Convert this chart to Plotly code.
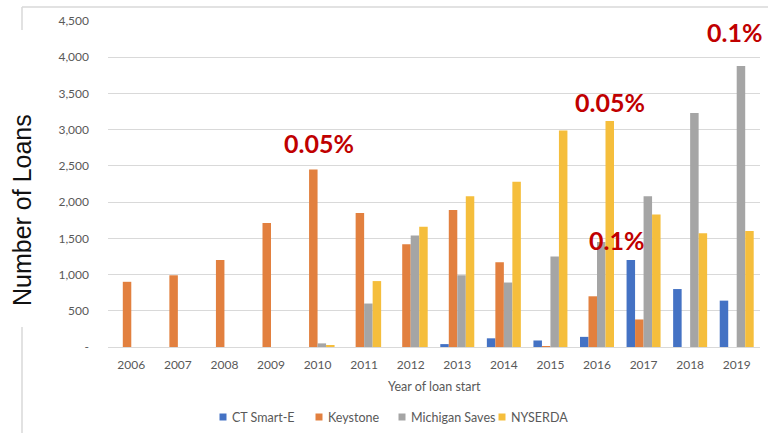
import plotly.graph_objects as go

# Loans started per year for each program
years = ["2006", "2007", "2008", "2009", "2010", "2011", "2012",
         "2013", "2014", "2015", "2016", "2017", "2018", "2019"]
ct_smart_e = [0, 0, 0, 0, 0, 0, 0, 40, 120, 90, 140, 1200, 800, 640]
keystone = [900, 990, 1200, 1710, 2450, 1850, 1420, 1890, 1170, 10, 700, 380, 0, 0]
michigan_saves = [0, 0, 0, 0, 50, 600, 1540, 990, 890, 1250, 1450, 2080, 3230, 3880]
nyserda = [0, 0, 0, 0, 20, 910, 1660, 2080, 2280, 2990, 3120, 1830, 1570, 1600]

series_names = ["CT Smart-E", "Keystone", "Michigan Saves", "NYSERDA"]
series_values = [ct_smart_e, keystone, michigan_saves, nyserda]
series_colors = ["#4472C4", "#E2803F", "#A5A5A5", "#F5BE3C"]

# Default-rate callouts: text, year, height, horizontal shift in px
callout_text = ["0.05%", "0.05%", "0.1%", "0.1%"]
callout_year = ["2010", "2016", "2016", "2019"]
callout_y = [2816, 3382, 1477, 4348]
callout_shift = [1, 13, 19, -2]

y_ticks = [0, 500, 1000, 1500, 2000, 2500, 3000, 3500, 4000, 4500]
y_ticktext = ["-", "500", "1,000", "1,500", "2,000", "2,500", "3,000", "3,500", "4,000", "4,500"]

W, H = 768, 433
L, R, T, B = 108, 8, 21, 86
plot_w = W - L - R
plot_h = H - T - B


def px_x(px):
    return (px - L) / plot_w


def px_y(py):
    return (H - B - py) / plot_h


fig = go.Figure()
for name, vals, color in zip(series_names, series_values, series_colors):
    fig.add_trace(go.Bar(x=years, y=vals, name=name, marker_color=color,
                         marker_line_width=0, showlegend=False))

tick_font = dict(family="Lato", size=12, color="#595959")

fig.update_layout(
    width=W, height=H,
    margin=dict(l=L, r=R, t=T, b=B),
    paper_bgcolor="white", plot_bgcolor="white",
    barmode="group", bargap=0.27, bargroupgap=0,
    showlegend=False,
    xaxis=dict(type="category", showgrid=False, tickfont=tick_font,
               range=[-0.5, len(years) - 0.5],
               ticks="", showline=True, linecolor="#d9d9d9", linewidth=1,
               ticklabelstandoff=7),
    yaxis=dict(range=[0, 4500], tickvals=y_ticks, ticktext=y_ticktext,
               tickfont=tick_font, showgrid=True, gridcolor="#d9d9d9",
               gridwidth=1, zeroline=False, showline=False, ticks="",
               ticklabelstandoff=18),
    font=dict(family="Lato"),
)

# compact legend row: small square swatch followed by the series name
legend_x = [223, 319, 402, 502]
legend_y = 417
for name, color, lx in zip(series_names, series_colors, legend_x):
    fig.add_shape(type="rect", xref="paper", yref="paper",
                  x0=px_x(lx - 3.5), x1=px_x(lx + 3.5),
                  y0=px_y(legend_y - 3.5), y1=px_y(legend_y + 3.5),
                  fillcolor=color, line_width=0)
    fig.add_annotation(text=name, xref="paper", yref="paper",
                       x=px_x(lx + 7), y=px_y(legend_y), xanchor="left",
                       yanchor="middle", showarrow=False,
                       font=dict(family="Lato", size=12.5, color="#595959"))

# x-axis title
fig.add_annotation(text="Year of loan start", xref="paper", yref="paper",
                   x=0.5, y=px_y(386), xanchor="center", yanchor="middle",
                   showarrow=False, font=dict(family="Lato", size=12.5, color="#595959"))

# y-axis title
fig.add_annotation(text="Number of Loans", xref="paper", yref="paper",
                   x=px_x(22), y=px_y(210), xanchor="center", yanchor="middle",
                   textangle=-90, showarrow=False,
                   font=dict(family="Liberation Sans", size=25, color="#111111"))

# red callouts, placed by category index
for txt, yr, yv, sh in zip(callout_text, callout_year, callout_y, callout_shift):
    fig.add_annotation(text=f"<b>{txt}</b>", x=years.index(yr), y=yv,
                       xref="x", yref="y",
                       xshift=sh, showarrow=False, xanchor="center", yanchor="middle",
                       font=dict(family="Lato", size=25, color="#C00000"))

# chart-area frame segments
frame = "#d9d9d9"
fig.add_shape(type="line", xref="paper", yref="paper",
              x0=px_x(22), x1=px_x(W), y0=px_y(7), y1=px_y(7),
              line=dict(color=frame, width=1.5))
fig.add_shape(type="line", xref="paper", yref="paper",
              x0=px_x(22), x1=px_x(22), y0=px_y(7), y1=px_y(30),
              line=dict(color=frame, width=1.5))
fig.add_shape(type="line", xref="paper", yref="paper",
              x0=px_x(22), x1=px_x(22), y0=px_y(327), y1=px_y(H),
              line=dict(color=frame, width=1.5))

fig.write_html("out.html")
